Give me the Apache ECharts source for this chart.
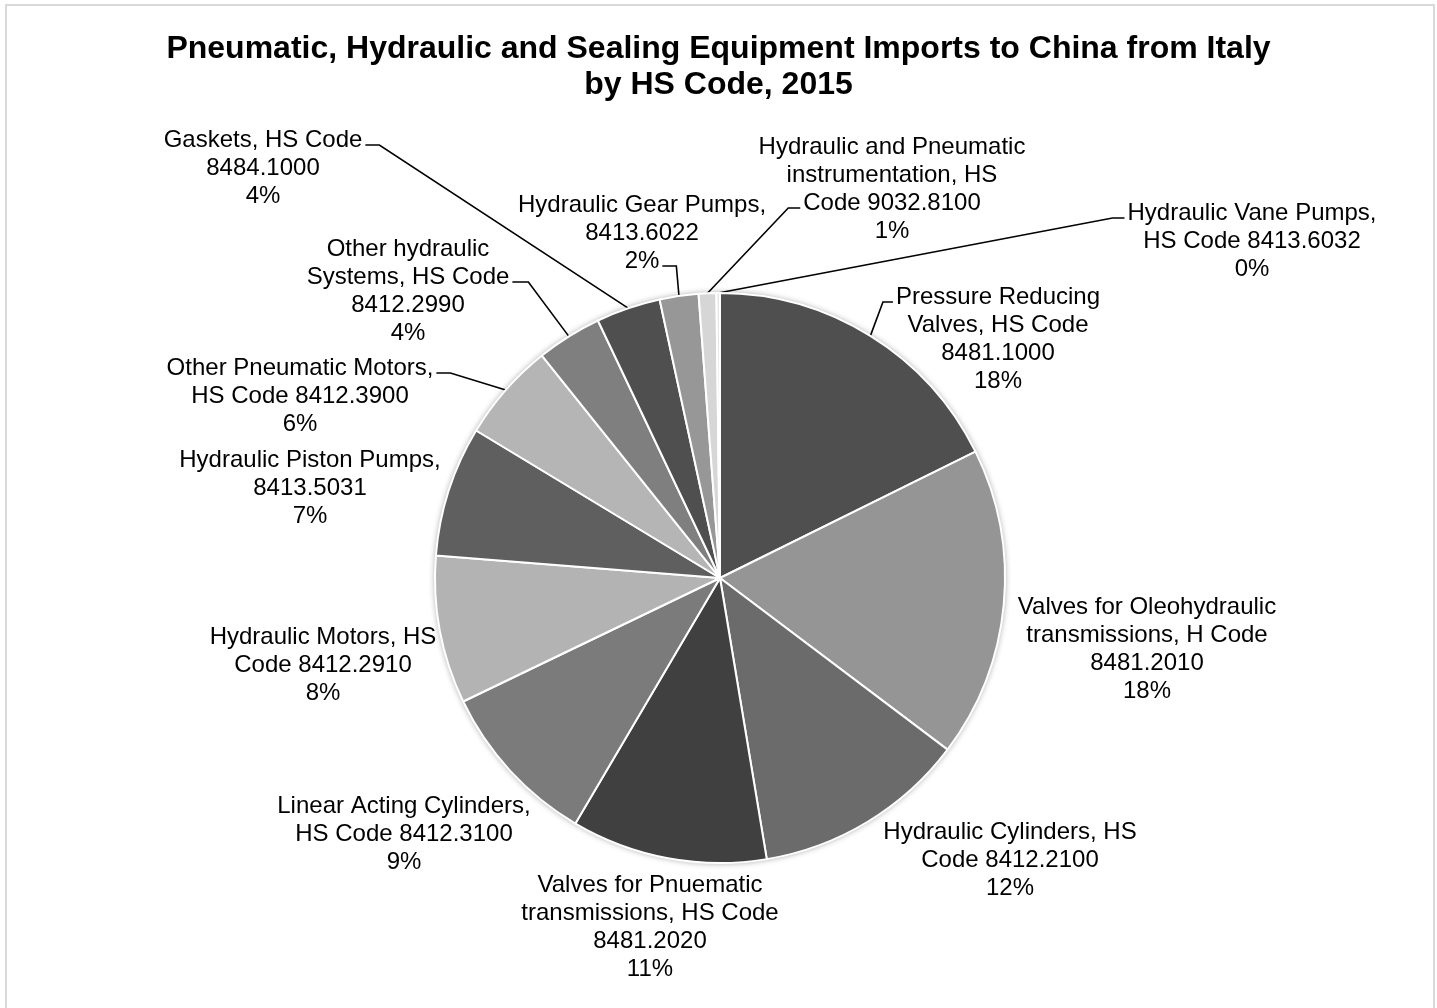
<!DOCTYPE html>
<html>
<head>
<meta charset="utf-8">
<script src="https://cdn.jsdelivr.net/npm/echarts@6/dist/echarts.min.js"></script>
<style>
html,body{margin:0;padding:0;background:#fff;}
#chart{width:1437px;height:1008px;}
</style>
</head>
<body>
<div id="chart"></div>
<script>
// ---- data ----
var titleText = 'Pneumatic, Hydraulic and Sealing Equipment Imports to China from Italy\nby HS Code, 2015';
var categories = [
  'Pressure Reducing\nValves, HS Code\n8481.1000',
  'Valves for Oleohydraulic\ntransmissions, H Code\n8481.2010',
  'Hydraulic Cylinders, HS\nCode 8412.2100',
  'Valves for Pnuematic\ntransmissions, HS Code\n8481.2020',
  'Linear Acting Cylinders,\nHS Code 8412.3100',
  'Hydraulic Motors, HS\nCode 8412.2910',
  'Hydraulic Piston Pumps,\n8413.5031',
  'Other Pneumatic Motors,\nHS Code 8412.3900',
  'Other hydraulic\nSystems, HS Code\n8412.2990',
  'Gaskets, HS Code\n8484.1000',
  'Hydraulic Gear Pumps,\n8413.6022',
  'Hydraulic and Pneumatic\ninstrumentation, HS\nCode 9032.8100',
  'Hydraulic Vane Pumps,\nHS Code 8413.6032'
];
var shares = [17.7, 17.6, 12.1, 11.1, 9.4, 8.4, 7.4, 5.6, 3.7, 3.65, 2.2, 1.0, 0.2];

// ---- styles / layout ----
var sliceColors = ['#4f4f4f', '#959595', '#6b6b6b', '#404040', '#7b7b7b', '#b3b3b3',
                   '#5f5f5f', '#b5b5b5', '#7f7f7f', '#4f4f4f', '#979797', '#d6d6d6', '#e6e6e6'];
// [label centre x, first line centre y, leader side, leader line index, elbow length]
var labelPlace = [
  [998, 297, 'l', 0, 10],
  [1147, 607, null],
  [1010, 832, null],
  [650, 885, null],
  [404, 806, null],
  [323, 637, null],
  [310, 460, null],
  [300, 368, 'r', 0, 14],
  [408, 249, 'r', 1, 16],
  [263, 140, 'r', 0, 14],
  [642, 205, 'r', 2, 14],
  [892, 147, 'l', 2, 12],
  [1252, 213, 'l', 0, 12]
];
var FONT = '"Liberation Sans", Arial, sans-serif';
var LABEL_SIZE = 24, LINE_H = 28;

var measureCtx = document.createElement('canvas').getContext('2d');
measureCtx.font = LABEL_SIZE + 'px ' + FONT;
function labelLines(i) {
  var total = shares.reduce(function (a, b) { return a + b; }, 0);
  return (categories[i] + '\n' + Math.round(shares[i] / total * 100) + '%').split('\n');
}

var pieData = categories.map(function (n, i) {
  return {
    name: n,
    value: shares[i],
    itemStyle: { color: sliceColors[i] },
    labelLine: { show: !!labelPlace[i][2] }
  };
});

var chart = echarts.init(document.getElementById('chart'), null, { renderer: 'canvas' });
chart.setOption({
  backgroundColor: '#ffffff',
  animation: false,
  title: {
    text: titleText,
    left: 'center',
    top: 26,
    textStyle: { fontFamily: FONT, fontSize: 32, fontWeight: 'bold', color: '#000', lineHeight: 36 }
  },
  graphic: [{
    type: 'rect',
    shape: { x: 6, y: 5, width: 1428, height: 1100 },
    style: { fill: 'none', stroke: '#d9d9d9', lineWidth: 2 },
    silent: true, z: 0
  }],
  series: [
    {
      type: 'pie',
      silent: true,
      center: [720, 578],
      radius: 285,
      z: 1,
      label: { show: false },
      labelLine: { show: false },
      itemStyle: { color: '#ffffff', shadowBlur: 6, shadowColor: 'rgba(0,0,0,0.4)' },
      data: [1]
    },
    {
      type: 'pie',
      z: 2,
      center: [720, 578],
      radius: 285,
      startAngle: 90,
      clockwise: true,
      avoidLabelOverlap: false,
      itemStyle: { borderColor: '#ffffff', borderWidth: 2 },
      label: {
        show: true,
        position: 'outside',
        color: '#000',
        fontFamily: FONT,
        fontSize: LABEL_SIZE,
        lineHeight: LINE_H,
        formatter: function (p) { return p.name + '\n' + Math.round(p.percent) + '%'; }
      },
      labelLine: {
        show: true, length: 10, length2: 10, smooth: false,
        lineStyle: { color: '#000', width: 1.6 }
      },
      labelLayout: function (params) {
        var i = params.dataIndex;
        var pl = labelPlace[i];
        var res = { x: pl[0], y: pl[1] - LINE_H / 2, align: 'center', verticalAlign: 'top' };
        if (pl[2] && params.labelLinePoints) {
          var lines = labelLines(i);
          var w = measureCtx.measureText(lines[pl[3]]).width;
          var ay = pl[1] + pl[3] * LINE_H + 5;
          var ax, ex;
          if (pl[2] === 'r') { ax = pl[0] + w / 2 + 3; ex = ax + pl[4]; }
          else { ax = pl[0] - w / 2 - 3; ex = ax - pl[4]; }
          res.labelLinePoints = [params.labelLinePoints[0], [ex, ay], [ax, ay]];
        }
        return res;
      },
      data: pieData
    }
  ]
});
</script>
</body>
</html>
